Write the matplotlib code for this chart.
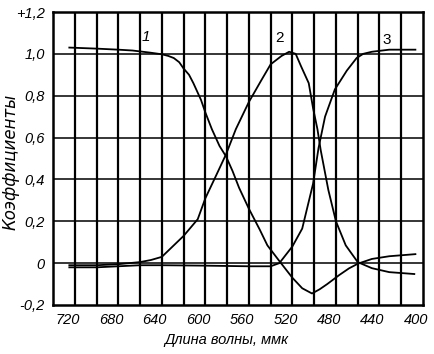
import matplotlib
matplotlib.use("Agg")
import matplotlib.pyplot as plt
import matplotlib.transforms as mtransforms

plt.rcParams['font.family'] = ['Liberation Sans', 'DejaVu Sans']

# Curve 1
wl_1 = [725, 700, 680, 667, 651, 640, 634, 629, 624, 620, 615, 611, 604, 600, 594, 587, 581, 575,
        569, 560, 556, 550, 543, 532, 520, 511, 502, 495, 488, 477, 468, 460, 447, 431, 407]
k_1 = [1.03, 1.025, 1.02, 1.016, 1.006, 0.998, 0.99, 0.98, 0.96, 0.93, 0.90, 0.86, 0.78, 0.72,
       0.64, 0.56, 0.51, 0.44, 0.36, 0.26, 0.22, 0.16, 0.085, 0.01, -0.07, -0.12, -0.145,
       -0.125, -0.10, -0.057, -0.025, -0.003, 0.02, 0.033, 0.043]

# Curve 2
wl_2 = [725, 700, 680, 660, 650, 640, 629, 620, 607, 600, 590, 581, 572, 560, 549, 540,
        530, 523, 517, 512, 505, 501, 497, 494, 487, 480, 471, 460, 447, 431, 408]
k_2 = [-0.01, -0.01, -0.005, 0.005, 0.015, 0.03, 0.085, 0.13, 0.21, 0.31, 0.42, 0.52,
       0.64, 0.77, 0.87, 0.95, 0.99, 1.01, 1.0, 0.94, 0.86, 0.74, 0.64, 0.54, 0.35, 0.2,
       0.085, 0.005, -0.024, -0.043, -0.052]

# Curve 3
wl_3 = [725, 700, 680, 660, 640, 600, 560, 540, 532, 520, 511, 501, 496, 490, 481, 470,
        461, 455, 447, 431, 407]
k_3 = [-0.02, -0.02, -0.015, -0.01, -0.01, -0.012, -0.015, -0.015, 0.0, 0.08, 0.165,
       0.38, 0.55, 0.70, 0.83, 0.92, 0.98, 1.0, 1.01, 1.02, 1.02]

curve_labels = ['1', '2', '3']
label_pos_x = [655, 532, 433]
label_pos_y = [1.08, 1.075, 1.065]

x_ticks = [720, 680, 640, 600, 560, 520, 480, 440, 400]
x_grid = list(range(720, 400, -20))
y_ticks = [-0.2, 0, 0.2, 0.4, 0.6, 0.8, 1.0, 1.2]
y_ticklabels = ['-0,2', '0', '0,2', '0,4', '0,6', '0,8', '1,0', '+1,2']

fig = plt.figure(figsize=(4.35, 3.54), dpi=100)
ax = fig.add_axes([53/435, 1-305/354, (423-53)/435, (305-12)/354])

for v in x_grid:
    ax.axvline(v, color='black', lw=1.6, zorder=1)
for v in y_ticks[1:-1]:
    ax.axhline(v, color='black', lw=1.1, zorder=1)

for wl, k in [(wl_1, k_1), (wl_2, k_2), (wl_3, k_3)]:
    ax.plot(wl, k, color='black', lw=1.3, zorder=3)

for t, xx, yy, st in zip(curve_labels, label_pos_x, label_pos_y, ['italic', 'normal', 'normal']):
    ax.text(xx, yy, t, fontsize=11, style=st, ha='center', va='center', zorder=4)

ax.set_xlim(740, 400)
ax.set_ylim(-0.2, 1.2)
ax.set_xticks(x_ticks)
ax.set_xticklabels([str(v) for v in x_ticks], fontsize=10.5, style='italic')
ax.set_yticks(y_ticks)
ax.set_yticklabels(y_ticklabels, fontsize=10.5, style='italic')
ax.tick_params(length=0, pad=6)
off = mtransforms.ScaledTranslation(-7/100, 0, fig.dpi_scale_trans)
for lab in ax.get_xticklabels():
    lab.set_transform(lab.get_transform() + off)
for s in ax.spines.values():
    s.set_linewidth(1.8)

fig.text(11/435, 1-162/354, 'Коэффициенты', fontsize=12, style='italic',
         family=['DejaVu Sans'], rotation=90, ha='center', va='center')
fig.text(226/435, 1-340/354, 'Длина волны, ммк', fontsize=10.5, style='italic',
         ha='center', va='center')

fig.savefig('out.png', dpi=100)
